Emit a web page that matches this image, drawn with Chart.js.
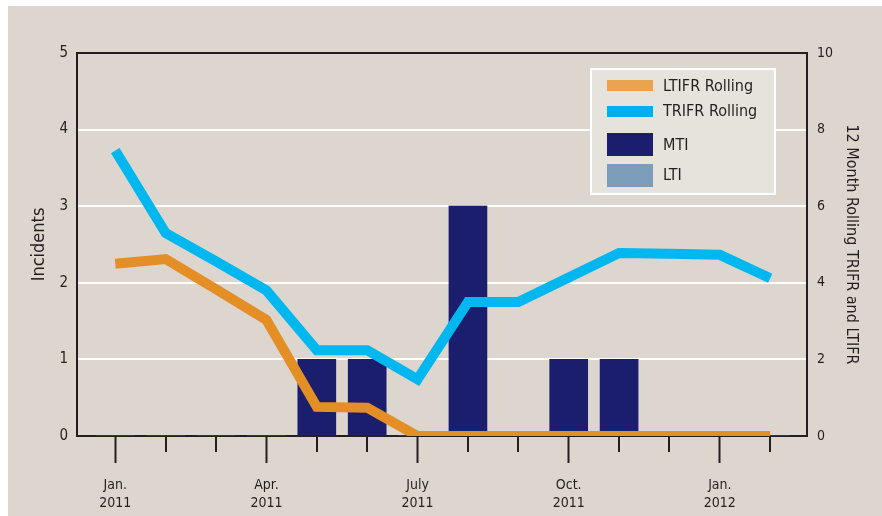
<!DOCTYPE html>
<html>
<head>
<meta charset="utf-8">
<script src="https://cdn.jsdelivr.net/npm/chart.js@4/dist/chart.umd.min.js"></script>
<style>
  html, body { margin: 0; padding: 0; background: #ffffff; }
  #wrap { width: 882px; height: 516px; }
</style>
</head>
<body>
<div id="wrap"><canvas id="c" width="882" height="516"></canvas></div>
<script>
// Monthly safety statistics, Jan. 2011 – Feb. 2012
const months = ['Jan. 2011', 'Feb. 2011', 'Mar. 2011', 'Apr. 2011', 'May 2011', 'June 2011', 'July 2011',
                'Aug. 2011', 'Sep. 2011', 'Oct. 2011', 'Nov. 2011', 'Dec. 2011', 'Jan. 2012', 'Feb. 2012'];
// Axis labels shown under the quarter ticks (empty = minor tick only)
const tickLabels = [['Jan.', '2011'], '', '', ['Apr.', '2011'], '', '', ['July', '2011'],
                    '', '', ['Oct.', '2011'], '', '', ['Jan.', '2012'], ''];

// Incidents per month (left axis)
const mti = [0, 0, 0, 0, 1, 1, 0, 3, 0, 1, 1, 0, 0, 0];
const lti = [0, 0, 0, 0, 0, 0, 0, 0, 0, 0, 0, 0, 0, 0];

// 12 month rolling frequency rates (right axis)
const trifr = [7.45, 5.3, 4.56, 3.8, 2.24, 2.24, 1.48, 3.5, 3.5, 4.14, 4.78, 4.76, 4.73, 4.12];
const ltifr = [4.5, 4.62, 3.83, 3.03, 0.76, 0.74, 0, 0, 0, 0, 0, 0, 0, 0];

const incidentTicks = [0, 1, 2, 3, 4, 5];
const rateTicks = [0, 2, 4, 6, 8, 10];

const FONT = "'DejaVu Sans Condensed', 'Liberation Sans Narrow', 'DejaVu Sans', sans-serif";
const INK = '#231f20';
const BG = '#ddd6cf';

const pts = arr => arr.map((v, i) => ({ x: i, y: v }));

const backdrop = {
  id: 'backdrop',
  beforeDraw(chart) {
    const { ctx, width, height } = chart;
    ctx.save();
    ctx.fillStyle = '#ffffff';
    ctx.fillRect(0, 0, width, height);
    ctx.fillStyle = BG;
    ctx.fillRect(8, 6, width - 8, height - 6);
    ctx.restore();
  }
};

const frame = {
  id: 'frame',
  afterDraw(chart) {
    const { ctx, chartArea: a, scales } = chart;
    ctx.save();
    ctx.strokeStyle = INK;
    ctx.lineWidth = 2;
    // top edge of the plot frame
    ctx.beginPath();
    ctx.moveTo(a.left - 1, a.top);
    ctx.lineTo(a.right + 1, a.top);
    ctx.stroke();
    // short ticks for the months without a label
    const x = scales.x;
    tickLabels.forEach((lab, i) => {
      if (lab !== '') return;
      const px = Math.round(x.getPixelForValue(i));
      ctx.beginPath();
      ctx.moveTo(px, a.bottom);
      ctx.lineTo(px, a.bottom + 16);
      ctx.stroke();
    });
    ctx.restore();
  }
};

const boxLegend = {
  id: 'boxLegend',
  afterDraw(chart) {
    const { ctx } = chart;
    const ds = chart.data.datasets;
    const find = l => ds.find(d => d.label === l);
    ctx.save();
    ctx.fillStyle = '#e6e2dc';
    ctx.fillRect(591, 69, 184, 125);
    ctx.strokeStyle = '#ffffff';
    ctx.lineWidth = 2;
    ctx.strokeRect(591, 69, 184, 125);
    const items = [
      { d: find('LTIFR Rolling'), sy: 80, sh: 11, ty: 87, swatch: '#eaa34f' },
      { d: find('TRIFR Rolling'), sy: 106, sh: 11, ty: 112, swatch: '#00b0ee' },
      { d: find('MTI'), sy: 133, sh: 23, ty: 146 },
      { d: find('LTI'), sy: 164, sh: 23, ty: 176 }
    ];
    ctx.font = '16px ' + FONT;
    ctx.textBaseline = 'middle';
    ctx.textAlign = 'left';
    items.forEach(it => {
      ctx.fillStyle = it.swatch || it.d.backgroundColor;
      ctx.fillRect(607, it.sy, 46, it.sh);
      ctx.fillStyle = INK;
      ctx.fillText(it.d.label, 663, it.ty);
    });
    ctx.restore();
  }
};

new Chart(document.getElementById('c'), {
  type: 'bar',
  data: {
    datasets: [
      { type: 'line', label: 'LTIFR Rolling', data: pts(ltifr), yAxisID: 'y2', order: 0,
        borderColor: '#e48e26', backgroundColor: '#e48e26', borderWidth: 10, pointRadius: 0,
        tension: 0, borderCapStyle: 'butt', borderJoinStyle: 'miter', fill: false },
      { type: 'line', label: 'TRIFR Rolling', data: pts(trifr), yAxisID: 'y2', order: 1,
        borderColor: '#00b7ef', backgroundColor: '#00b7ef', borderWidth: 10, pointRadius: 0,
        tension: 0, borderCapStyle: 'butt', borderJoinStyle: 'miter', fill: false },
      { label: 'MTI', data: pts(mti), yAxisID: 'y', order: 2, stack: 'inc',
        backgroundColor: '#1b1e6d', barThickness: 38, borderWidth: 0 },
      { label: 'LTI', data: pts(lti), yAxisID: 'y', order: 3, stack: 'inc',
        backgroundColor: '#7b9db9', barThickness: 38, borderWidth: 0 }
    ]
  },
  options: {
    responsive: false,
    animation: false,
    devicePixelRatio: 1,
    layout: { padding: { top: 53, left: 0, right: 0, bottom: 0 } },
    plugins: { legend: { display: false }, tooltip: { enabled: false } },
    scales: {
      x: {
        type: 'linear',
        position: 'bottom',
        min: -0.76,
        max: 13.73,
        offset: false,
        stacked: true,
        z: 1,
        afterBuildTicks: s => { s.ticks = months.map((m, i) => ({ value: i })); },
        afterFit: s => { s.height = 80; },
        ticks: {
          autoSkip: false,
          maxRotation: 0,
          minRotation: 0,
          padding: 13,
          color: INK,
          font: { family: FONT, size: 14, lineHeight: 1.28 },
          callback: v => tickLabels[v]
        },
        grid: {
          offset: false,
          drawOnChartArea: false,
          drawTicks: true,
          tickLength: 27,
          tickWidth: 2,
          tickColor: c => (tickLabels[c.tick ? c.tick.value : 0] !== '' ? INK : 'rgba(0,0,0,0)')
        },
        border: { display: true, color: INK, width: 2 }
      },
      y: {
        position: 'left',
        min: 0,
        max: 5,
        stacked: true,
        afterBuildTicks: s => { s.ticks = incidentTicks.map(v => ({ value: v })); },
        afterFit: s => { s.width = 77; },
        ticks: { padding: 9, color: INK, font: { family: FONT, size: 15 } },
        grid: {
          drawTicks: false,
          lineWidth: 2,
          color: c => (c.tick && (c.tick.value === 0 || c.tick.value === 5) ? 'rgba(0,0,0,0)' : '#ffffff')
        },
        border: { display: true, color: INK, width: 2 },
        title: {
          display: true, text: 'Incidents', color: INK,
          font: { family: FONT, size: 18 }, padding: { top: 29, bottom: 0 }
        }
      },
      y2: {
        position: 'right',
        min: 0,
        max: 10,
        afterBuildTicks: s => { s.ticks = rateTicks.map(v => ({ value: v })); },
        afterFit: s => { s.width = 75; },
        ticks: { padding: 10, color: INK, font: { family: FONT, size: 14 } },
        grid: { drawOnChartArea: false, drawTicks: false },
        border: { display: true, color: INK, width: 2 },
        title: {
          display: true, text: '12 Month Rolling TRIFR and LTIFR', color: INK,
          font: { family: FONT, size: 16 }, padding: { top: 21, bottom: 0 }
        }
      }
    }
  },
  plugins: [backdrop, frame, boxLegend]
});
</script>
</body>
</html>
